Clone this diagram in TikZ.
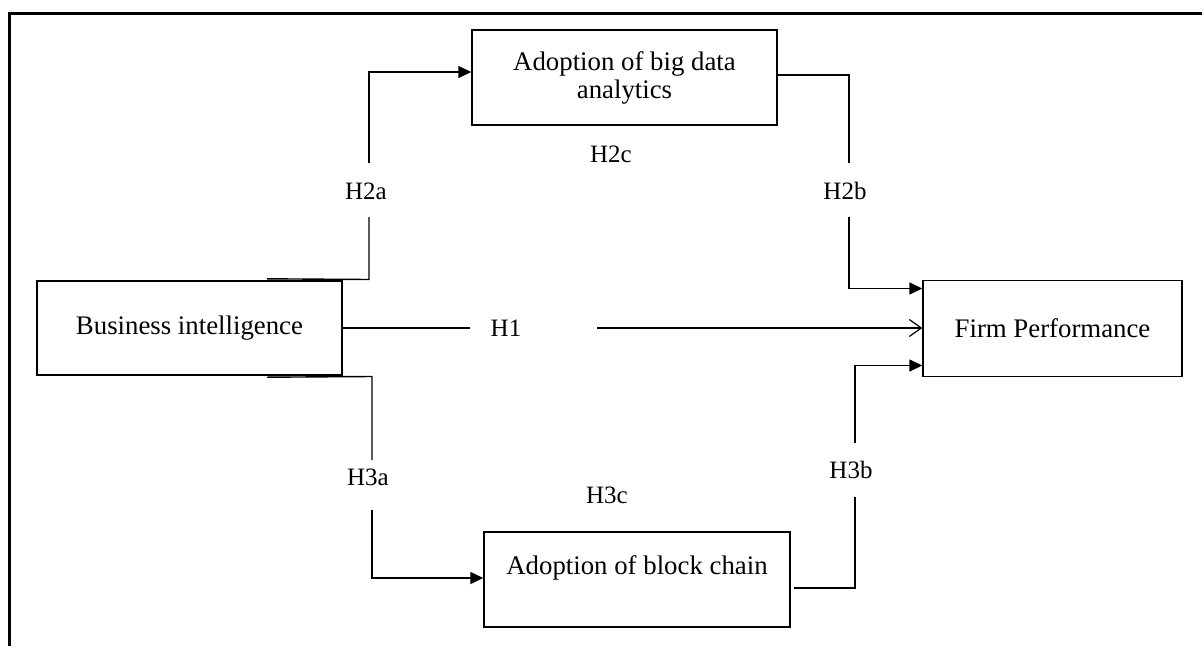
\documentclass[tikz,border=0pt]{standalone}
\usepackage{fontspec}
\setmainfont{Liberation Serif}
\usetikzlibrary{arrows.meta,calc}
\begin{document}
\begin{tikzpicture}[x=1pt,y=-1pt,
  box/.style={draw=black,line width=1.4pt,inner sep=0pt,align=center,
              font=\fontsize{26.8}{28}\selectfont},
  hyp/.style={inner sep=0pt,font=\fontsize{25}{28}\selectfont},
  link/.style={draw=black,line width=1.4pt},
  solidtip/.style={-{Triangle[length=13pt,width=12pt]}},
  opentip/.style={-{Straight Barb[length=12pt,width=17pt,line width=1.2pt]}},
  framing/.style={draw=black,line width=3pt,line join=miter}]
\useasboundingbox (0,0) rectangle (1202,646);

% outer frame (top and left edges)
\draw[framing] (1202,13.5) -- (9,13.5) -- (9,646);

% constructs
\node[box,minimum width=305pt,minimum height=95pt] (bda) at (624.5,77.5) {Adoption of big data\\analytics};
\node[box,minimum width=305pt,minimum height=94pt] (bi) at (189.5,328) {Business intelligence};
\node[box,minimum width=259pt,minimum height=96pt] (fp) at (1052.5,328.5) {Firm Performance};
\node[box,minimum width=306pt,minimum height=95pt] (bc) at (637,579.5) {Adoption of block chain\\\mbox{}};

% hypothesis labels
\node[hyp] (h2a) at (366,191) {H2a};
\node[hyp] (h2b) at (845,191) {H2b};
\node[hyp] (h2c) at (611,154) {H2c};
\node[hyp] (h1)  at (506,328) {H1};
\node[hyp] (h3a) at (368,477) {H3a};
\node[hyp] (h3b) at (851,470) {H3b};
\node[hyp] (h3c) at (607,495) {H3c};

% bend and gap points of the connectors
\coordinate (a0) at ([xshift=77.5pt,yshift=1.5pt]bi.north);
\coordinate (a1) at (369,279.5);
\coordinate (a2) at (369,217);
\coordinate (a3) at (369,163);

\coordinate (b0) at ([yshift=2.5pt]bda.east);
\coordinate (b1) at (849,75);
\coordinate (b2) at (849,163);
\coordinate (b3) at (849,217);

\coordinate (c0) at (470,328);
\coordinate (c1) at (597,328);

\coordinate (d0) at ([xshift=77.5pt,yshift=-1.5pt]bi.south);
\coordinate (d1) at (372,376.5);
\coordinate (d2) at (372,460);
\coordinate (d3) at (372,510);

\coordinate (e0) at ([xshift=3pt,yshift=-8.5pt]bc.east);
\coordinate (e1) at (855,588);
\coordinate (e2) at (855,497);
\coordinate (e3) at (855,443);

% H2a: business intelligence -> big data analytics
\draw[link] (a0) -- (a1) -- (a2);
\draw[link,solidtip] (a3) |- ([yshift=5.5pt]bda.west);

% H2b: big data analytics -> firm performance
\draw[link] (b0) -- (b1) -- (b2);
\draw[link,solidtip] (b3) |- ([yshift=40pt]fp.west);

% H1: business intelligence -> firm performance
\draw[link,line width=1.2pt] (bi.east) -- (c0);
\draw[link,line width=1.2pt,opentip] (c1) -- (c1 -| fp.west);

% H3a: business intelligence -> block chain
\draw[link] (d0) -- (d1) -- (d2);
\draw[link,solidtip] (d3) |- ([yshift=1.5pt]bc.west);

% H3b: block chain -> firm performance
\draw[link] (e0) -- (e1) -- (e2);
\draw[link,solidtip] (e3) |- ([yshift=-37pt]fp.west);
\end{tikzpicture}
\end{document}
